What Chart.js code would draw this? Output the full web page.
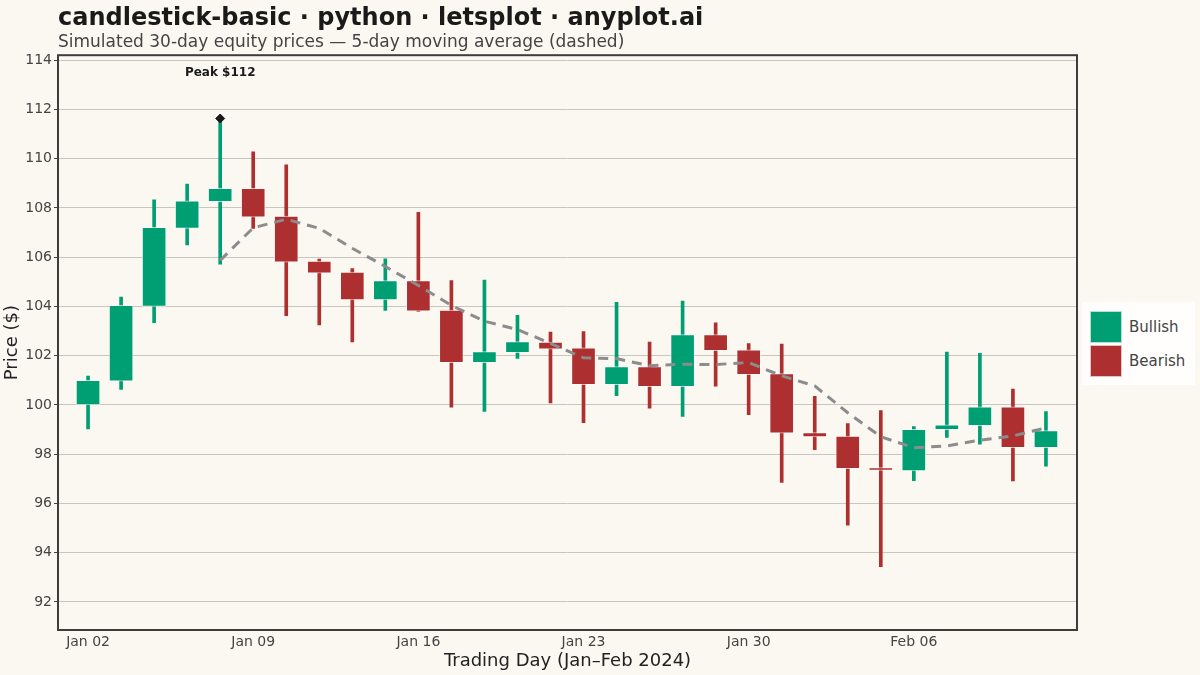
<!DOCTYPE html>
<html>
<head>
<meta charset="utf-8">
<script src="https://cdn.jsdelivr.net/npm/chart.js@4.4.1/dist/chart.umd.min.js"></script>
<style>
  html, body { margin: 0; background: #FAF8F1; }
  #wrap { position: relative; width: 1200px; height: 675px; }
  #legend {
    position: absolute; left: 1082px; top: 302px; width: 113px; height: 83px;
    background: #FFFEFC; box-sizing: border-box; padding: 8px 0 0 8px;
    font-family: "DejaVu Sans"; font-size: 15px; color: #444;
  }
  .item { display: flex; align-items: center; height: 34px; }
  .sw { width: 32px; height: 32px; box-sizing: border-box; border: 1px solid rgba(255,255,255,0.7); margin-right: 7px; }
</style>
</head>
<body>
<div id="wrap">
  <canvas id="chart"></canvas>
  <div id="legend"></div>
</div>
<script>
// trading days, Jan 02 - Feb 12 2024
const dates = ['Jan 02', 'Jan 03', 'Jan 04', 'Jan 05', 'Jan 08', 'Jan 09', 'Jan 10', 'Jan 11', 'Jan 12', 'Jan 15',
               'Jan 16', 'Jan 17', 'Jan 18', 'Jan 19', 'Jan 22', 'Jan 23', 'Jan 24', 'Jan 25', 'Jan 26', 'Jan 29',
               'Jan 30', 'Jan 31', 'Feb 01', 'Feb 02', 'Feb 05', 'Feb 06', 'Feb 07', 'Feb 08', 'Feb 09', 'Feb 12'];

const opens  = [100.00, 100.96, 104.00, 107.17, 108.25, 108.79, 107.67, 105.84, 105.39, 104.26,
                105.05, 103.85, 101.71, 102.12, 102.55, 102.32, 100.82, 101.56, 100.74, 102.86,
                102.24, 101.27, 98.88, 98.73, 97.46, 97.32, 98.99, 99.16, 99.92, 98.26];
const highs  = [101.17, 104.38, 108.33, 108.97, 111.63, 110.28, 109.75, 105.92, 105.54, 105.93,
                107.82, 105.05, 105.07, 103.64, 102.96, 102.98, 104.17, 102.55, 104.22, 103.33,
                102.49, 102.47, 100.35, 99.24, 99.77, 99.12, 102.15, 102.09, 100.64, 99.73];
const lows   = [99.02, 100.63, 103.34, 106.50, 105.71, 107.17, 103.62, 103.25, 102.56, 103.84,
                103.80, 99.91, 99.74, 101.89, 100.08, 99.28, 100.38, 99.87, 99.53, 100.76,
                99.60, 96.85, 98.18, 95.12, 93.43, 96.92, 98.68, 98.41, 96.91, 97.51];
const closes = [101.00, 104.04, 107.21, 108.29, 108.79, 107.62, 105.80, 105.35, 104.26, 105.05,
                103.81, 101.71, 102.17, 102.57, 102.26, 100.82, 101.56, 100.74, 102.86, 102.20,
                101.23, 98.85, 98.70, 97.41, 97.34, 99.01, 99.19, 99.92, 98.26, 98.96];
const ma5    = [null, null, null, null, 105.87, 107.19, 107.54, 107.17, 106.36, 105.62,
                104.85, 104.04, 103.40, 103.06, 102.50, 101.91, 101.88, 101.59, 101.65, 101.64,
                101.72, 101.18, 100.77, 99.68, 98.71, 98.26, 98.33, 98.57, 98.74, 99.07];

const yTicks = [92, 94, 96, 98, 100, 102, 104, 106, 108, 110, 112, 114];
const xTickIdx = [0, 5, 10, 15, 20, 25];

const peakIdx = 4;
const peakLabel = 'Peak $112';
const peakLabelY = 113.47;

const UP = '#009E73';
const DOWN = '#AD2F2F';
const FONT = '"DejaVu Sans", "Noto Sans", sans-serif';

const candleColors = closes.map((c, i) => c >= opens[i] ? UP : DOWN);
const wickData = dates.map((d, i) => ({ x: i, y: [lows[i], highs[i]] }));
const bodyData = dates.map((d, i) => ({ x: i, y: [opens[i], closes[i]] }));
const maData = [];
ma5.forEach((v, i) => { if (v !== null) maData.push({ x: i, y: v }); });

const frame = {
  id: 'frame',
  afterDatasetsDraw(chart) {
    const { ctx, chartArea: a, scales } = chart;
    ctx.save();
    ctx.font = 'bold 12px ' + FONT;
    ctx.fillStyle = '#1A1A1A';
    ctx.textAlign = 'center';
    ctx.textBaseline = 'middle';
    ctx.fillText(peakLabel, scales.x.getPixelForValue(peakIdx), scales.y.getPixelForValue(peakLabelY));
    ctx.strokeStyle = '#3D3D3D';
    ctx.lineWidth = 2;
    ctx.strokeRect(a.left, a.top, a.right - a.left, a.bottom - a.top);
    ctx.restore();
  }
};

new Chart(document.getElementById('chart'), {
  data: {
    datasets: [
      {
        type: 'line', label: '5-day MA', data: maData, order: 0,
        borderColor: '#8C8C8C', borderWidth: 3, borderDash: [10, 7],
        pointRadius: 0, fill: false, tension: 0
      },
      {
        type: 'scatter', label: 'Peak', data: [{ x: peakIdx, y: highs[peakIdx] }], order: 0,
        pointStyle: 'rectRot', pointRadius: 4.5, backgroundColor: '#1A1A1A', borderColor: '#1A1A1A'
      },
      {
        type: 'bar', label: 'Body', data: bodyData, order: 1, grouped: false,
        barThickness: 24, backgroundColor: candleColors,
        borderColor: 'rgba(255,255,255,0.65)', borderWidth: 1, borderSkipped: false
      },
      {
        type: 'bar', label: 'Wick', data: wickData, order: 2, grouped: false,
        barThickness: 3, backgroundColor: candleColors, borderWidth: 0
      }
    ]
  },
  options: {
    responsive: true,
    maintainAspectRatio: false,
    animation: false,
    layout: { padding: { left: 0, right: 123, top: 0, bottom: 0 } },
    plugins: {
      legend: { display: false },
      tooltip: { enabled: false },
      title: {
        display: true, text: 'candlestick-basic · python · letsplot · anyplot.ai',
        align: 'start', fullSize: false, color: '#1A1A1A',
        font: { family: FONT, size: 24, weight: 'bold' },
        padding: { top: 4, bottom: 0 }
      },
      subtitle: {
        display: true, text: 'Simulated 30-day equity prices — 5-day moving average (dashed)',
        align: 'start', fullSize: false, color: '#444',
        font: { family: FONT, size: 17 },
        padding: { top: 0, bottom: 2 }
      }
    },
    scales: {
      x: {
        type: 'linear', min: -0.91, max: 29.94, offset: false,
        afterBuildTicks: s => { s.ticks = xTickIdx.map(v => ({ value: v })); },
        afterFit: s => { s.height = 45; },
        grid: { display: false, drawTicks: false },
        border: { display: false },
        ticks: {
          autoSkip: false, maxRotation: 0, padding: 4, color: '#444',
          font: { family: FONT, size: 14 },
          callback: v => dates[v]
        },
        title: {
          display: true, text: 'Trading Day (Jan–Feb 2024)', color: '#222',
          font: { family: FONT, size: 18 }, padding: { top: 0, bottom: 3 }
        }
      },
      y: {
        min: 90.86, max: 114.2,
        afterBuildTicks: s => { s.ticks = yTicks.map(v => ({ value: v })); },
        afterFit: s => { s.width = 58; },
        grid: { color: '#C9C6BF', lineWidth: 1, tickLength: 4, tickColor: '#444' },
        border: { display: false },
        ticks: { padding: 2, color: '#444', font: { family: FONT, size: 14 } },
        title: {
          display: true, text: 'Price ($)', color: '#222',
          font: { family: FONT, size: 18 }, padding: 2
        }
      }
    }
  },
  plugins: [frame]
});

const legend = document.getElementById('legend');
[['Bullish', UP], ['Bearish', DOWN]].forEach(([name, col]) => {
  const row = document.createElement('div');
  row.className = 'item';
  row.innerHTML = `<div class="sw" style="background:${col}"></div><span>${name}</span>`;
  legend.appendChild(row);
});
</script>
</body>
</html>
